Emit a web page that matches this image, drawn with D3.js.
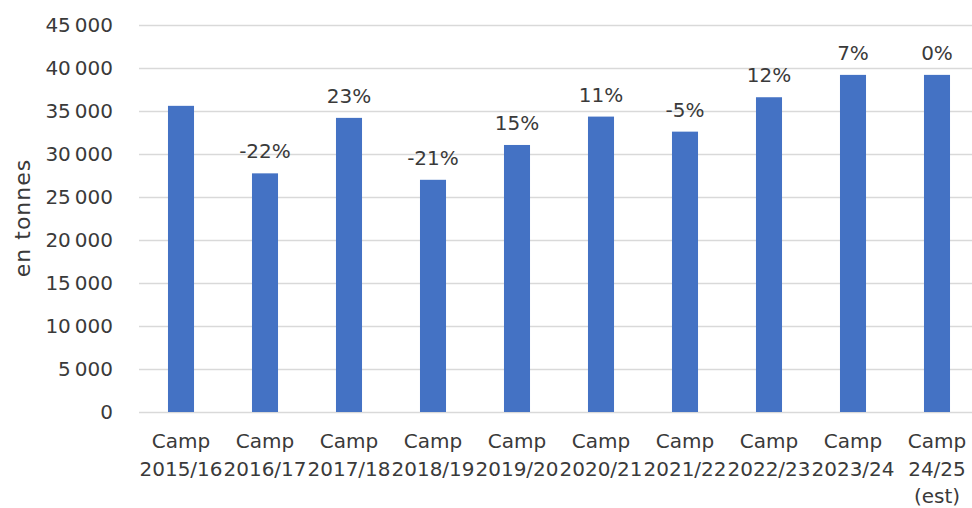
<!DOCTYPE html>
<html>
<head>
<meta charset="utf-8">
<script src="https://cdn.jsdelivr.net/npm/d3@7"></script>
<style>
  body { margin: 0; background: #fff; }
  text { font-family: "DejaVu Sans", sans-serif; fill: #3a3a3a; }
</style>
</head>
<body>
<div class="chart"></div>
<script>
// Campaign volumes (tonnes) with year-on-year change
var campaigns = ["Camp|2015/16", "Camp|2016/17", "Camp|2017/18", "Camp|2018/19", "Camp|2019/20",
  "Camp|2020/21", "Camp|2021/22", "Camp|2022/23", "Camp|2023/24", "Camp|24/25|(est)"];
var tonnes = [35600, 27750, 34200, 27000, 31050, 34350, 32600, 36600, 39200, 39200];
var changes = ["", "-22%", "23%", "-21%", "15%", "11%", "-5%", "12%", "7%", "0%"];
var yTicks = [0, 5000, 10000, 15000, 20000, 25000, 30000, 35000, 40000, 45000];

var svgWidth = 972;
var svgHeight = 508;

var svg = d3.select(".chart")
  .append("svg")
  .attr("width", svgWidth)
  .attr("height", svgHeight);

var x = d3.scaleBand()
  .domain(campaigns)
  .range([139, 979])
  .paddingInner(0.69)
  .paddingOuter(0.345);

var y = d3.scaleLinear()
  .domain([0, 45000])
  .range([412, 25]);

var fr = d3.formatLocale({ decimal: ",", thousands: "\u2009", grouping: [3], currency: ["", " €"] });
var fmt = fr.format(",d");

// gridlines + tick labels
var leftAxis = d3.axisLeft(y)
  .tickValues(yTicks)
  .tickSize(-(979 - 139))
  .tickPadding(26)
  .tickFormat(fmt);

var yAxis = svg.append("g")
  .attr("transform", "translate(139,0)")
  .call(leftAxis);
yAxis.select(".domain").remove();
yAxis.selectAll(".tick line").attr("stroke", "#d9d9d9").attr("stroke-width", 1.5);
yAxis.selectAll(".tick text")
  .attr("font-size", "20px")
  .attr("fill", "#3a3a3a")
  .attr("font-family", "'DejaVu Sans', sans-serif");

// bars
svg.append("g").selectAll("rect")
  .data(tonnes)
  .enter()
  .append("rect")
  .attr("x", (d, i) => x(campaigns[i]))
  .attr("y", d => y(d))
  .attr("width", x.bandwidth())
  .attr("height", d => y(0) - y(d))
  .attr("fill", "#4472c4");

// change labels
svg.append("g").selectAll("text")
  .data(tonnes)
  .enter()
  .append("text")
  .attr("x", (d, i) => x(campaigns[i]) + x.bandwidth() / 2)
  .attr("y", d => y(d) - 15)
  .attr("text-anchor", "middle")
  .attr("font-size", "20px")
  .text((d, i) => changes[i]);

// category labels
var cats = svg.append("g").selectAll("text")
  .data(campaigns)
  .enter()
  .append("text")
  .attr("text-anchor", "middle")
  .attr("font-size", "20px");

cats.selectAll("tspan")
  .data(d => d.split("|").map(s => ({ s: s, key: d })))
  .enter()
  .append("tspan")
  .attr("x", d => x(d.key) + x.bandwidth() / 2)
  .attr("y", (d, i) => 448 + i * 27.5)
  .text(d => d.s);

// axis title
svg.append("text")
  .attr("transform", "translate(30, 218) rotate(-90)")
  .attr("text-anchor", "middle")
  .attr("font-size", "22px")
  .attr("letter-spacing", "1px")
  .text("en tonnes");
</script>
</body>
</html>
